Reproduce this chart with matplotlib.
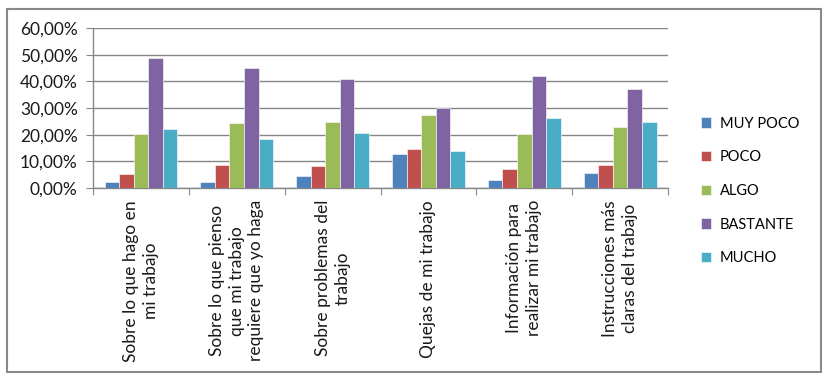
import matplotlib.pyplot as plt
import numpy as np
from matplotlib.patches import Rectangle
from matplotlib.ticker import FuncFormatter, MultipleLocator

categories = [
    "Sobre lo que hago en\nmi trabajo",
    "Sobre lo que pienso\nque mi trabajo\nrequiere que yo haga",
    "Sobre problemas del\ntrabajo",
    "Quejas de mi trabajo",
    "Información para\nrealizar mi trabajo",
    "Instrucciones más\nclaras del trabajo",
]
series_names = ["MUY POCO", "POCO", "ALGO", "BASTANTE", "MUCHO"]
muy_poco = [2.3, 2.3, 4.4, 12.7, 2.9, 5.5]
poco = [5.4, 8.7, 8.2, 14.8, 7.0, 8.7]
algo = [20.1, 24.2, 24.7, 27.4, 20.1, 22.7]
bastante = [48.7, 45.0, 40.9, 30.0, 41.9, 37.1]
mucho = [22.1, 18.4, 20.6, 13.8, 26.2, 24.7]
colors = ["#4F81BD", "#C0504D", "#9BBB59", "#8064A2", "#4BACC6"]

plt.rcParams["font.family"] = ["Lato", "DejaVu Sans"]

fig = plt.figure(figsize=(8.27, 3.78), dpi=100)
ax = fig.add_axes([93 / 827, 1 - 188 / 378, (668 - 93) / 827, (188 - 28) / 378])

series = [muy_poco, poco, algo, bastante, mucho]
x = np.arange(len(categories))
w = 0.152
for i, (name, vals, c) in enumerate(zip(series_names, series, colors)):
    ax.bar(x + (i - 2) * w, vals, width=w, color=c, label=name,
           edgecolor="white", linewidth=0.4, zorder=3)

ax.set_xlim(-0.5, len(categories) - 0.5)
ax.set_ylim(0, 60)
ax.yaxis.set_major_locator(MultipleLocator(10))
ax.yaxis.set_major_formatter(FuncFormatter(lambda v, p: f"{v:.2f}%".replace(".", ",")))
ax.grid(axis="y", color="#868686", linewidth=1.0, zorder=0)
ax.set_axisbelow(True)

for s in ["top", "right"]:
    ax.spines[s].set_visible(False)
for s in ["left", "bottom"]:
    ax.spines[s].set_color("#868686")
    ax.spines[s].set_linewidth(1.0)

ax.set_xticks(np.arange(-0.5, len(categories), 1.0))
ax.set_xticklabels([])
ax.tick_params(axis="x", length=5, color="#868686", direction="out")
ax.tick_params(axis="y", length=5, color="#868686", labelsize=12.5, pad=6,
               labelcolor="#1a1a1a")

for xi, lab in zip(x, categories):
    ax.annotate(lab, xy=(xi, 0), xycoords=("data", "axes fraction"),
                xytext=(0, -12), textcoords="offset pixels",
                rotation=90, ha="center", va="top", multialignment="center",
                fontsize=12.5, color="#1a1a1a", linespacing=1.28)

ax.legend(loc="center left", bbox_to_anchor=(695 / 827, 1 - 191 / 378),
          bbox_transform=fig.transFigure, frameon=False, fontsize=10.5,
          handlelength=0.7, handleheight=0.7, handletextpad=0.6,
          labelspacing=1.35, borderaxespad=0)

fig.patches.append(Rectangle((7 / 827, 1 - 372 / 378), (821 - 7) / 827,
                             (372 - 9) / 378, transform=fig.transFigure,
                             fill=False, edgecolor="#898989", linewidth=1.5))

fig.savefig("out.png", dpi=100)
